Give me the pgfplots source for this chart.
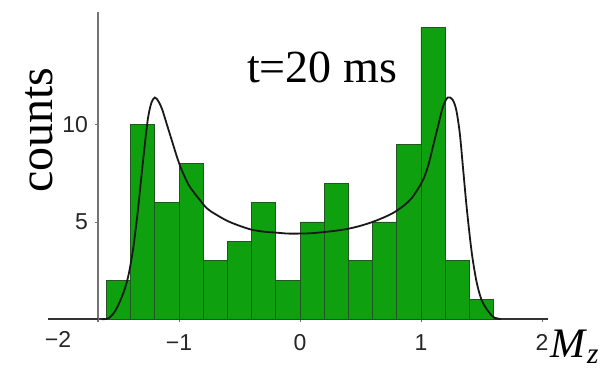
\documentclass[border=0pt]{standalone}
\usepackage{pgfplots}
\pgfplotsset{compat=1.18}
\usepackage{fontspec}
\setmainfont{Liberation Serif}
\newfontfamily\ticksans{Liberation Sans}
\definecolor{histgreen}{RGB}{14,160,14}
\definecolor{edgegreen}{RGB}{35,85,35}
\begin{document}
\begin{tikzpicture}
\begin{axis}[
  at={(0,0)}, anchor=south west,
  scale only axis, width=225pt, height=155pt,
  xmin=-1.67, xmax=2.05, ymin=-0.15, ymax=15.8,
  axis x line=middle, axis y line=left,
  axis line style={-},
  x axis line style={black!80, line width=0.6pt},
  y axis line style={black!55, line width=0.6pt},
  xtick={-1,0,1,2}, xticklabels={−1,0,1,2},
  ytick={5,10}, yticklabels={5,10},
  tick align=outside, major tick length=1.5pt,
  tick style={black!55, line width=0.4pt},
  ticklabel style={font=\ticksans\fontsize{11.5}{11.5}\selectfont, text=black!85},
  x tick label style={anchor=base, yshift=-14pt},
  clip=false,
]
\addplot[ybar interval, fill=histgreen, draw=edgegreen, line width=0.4pt] coordinates {
(-1.6,2) (-1.4,10) (-1.2,6) (-1.0,8) (-0.8,3) (-0.6,4) (-0.4,6) (-0.2,2)
(0.0,5) (0.2,7) (0.4,3) (0.6,5) (0.8,9) (1.0,15) (1.2,3) (1.4,1) (1.6,1)};
\addplot[black!90, line width=0.9pt, smooth, tension=0.5] coordinates {
(-1.64,0) (-1.58,0.05) (-1.52,0.5) (-1.46,1.35) (-1.42,2.2) (-1.38,3.6)
(-1.34,5.6) (-1.30,8.0) (-1.26,10.2) (-1.23,11.1) (-1.20,11.4) (-1.17,11.2)
(-1.14,10.8) (-1.10,10.0) (-1.06,9.2) (-1.02,8.4) (-0.98,7.7) (-0.92,6.9)
(-0.85,6.3) (-0.77,5.7) (-0.70,5.4) (-0.60,5.05) (-0.50,4.8) (-0.40,4.6)
(-0.30,4.5) (-0.20,4.45) (-0.10,4.4) (0.00,4.4) (0.10,4.42) (0.20,4.48)
(0.30,4.55) (0.40,4.65) (0.50,4.8) (0.60,5.0) (0.70,5.25) (0.78,5.5)
(0.86,5.85) (0.92,6.2) (0.98,6.75) (1.02,7.2) (1.06,7.9) (1.10,8.9)
(1.14,9.9) (1.18,10.9) (1.22,11.4) (1.26,11.3) (1.29,10.8) (1.32,9.6)
(1.35,7.6) (1.38,5.6) (1.42,3.4) (1.46,1.9) (1.50,1.0) (1.55,0.45)
(1.60,0.1) (1.66,0)};
\draw[black!80, line width=0.6pt] (axis cs:-2.08,0) -- (axis cs:-1.67,0);
\node[font=\ticksans\fontsize{11.5}{11.5}\selectfont, text=black!85, anchor=base, yshift=-14pt] at (axis cs:-2,0) {−2};
\node[rotate=90, anchor=base, font=\fontsize{24}{24}\selectfont] at (rel axis cs:-0.1,0.619) {counts};
\node[anchor=base, font=\fontsize{23}{23}\selectfont] at (rel axis cs:0.498,0.774) {t=20 ms};
\node[anchor=base west, inner sep=0pt, font=\fontsize{21}{21}\selectfont] at (rel axis cs:1.004,-0.115) {\textit{M}\textsubscript{\textit{z}}};
\end{axis}
\pgfresetboundingbox
\path[use as bounding box] (-49pt,-24.5pt) rectangle (252.5pt,161pt);
\end{tikzpicture}
\end{document}
